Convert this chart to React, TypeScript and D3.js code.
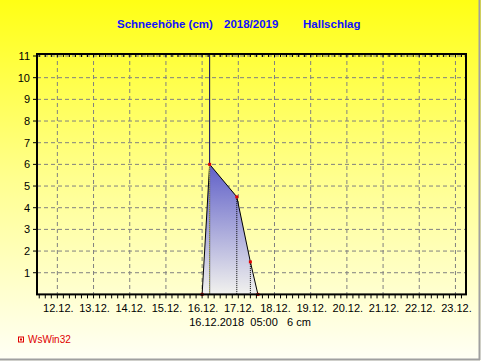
import React from 'react';
import * as d3 from 'd3';

// snow depth readings (cm)
const times = ['2018-12-16T00:00', '2018-12-16T05:00', '2018-12-16T23:00', '2018-12-17T08:00', '2018-12-17T13:00'];
const snow = [0, 6, 4.5, 1.5, 0];
const dayTicks = ['12.12.', '13.12.', '14.12.', '15.12.', '16.12.', '17.12.', '18.12.', '19.12.', '20.12.', '21.12.', '22.12.', '23.12.'];
const yTicks = [1, 2, 3, 4, 5, 6, 7, 8, 9, 10, 11];
const cursorIndex = 1;
const cursorLabel = '16.12.2018  05:00   6 cm';

const W = 481;
const H = 361;
const plot = { left: 37, right: 466, top: 54, bottom: 294.4 };

const App = () => {
  const x = d3.scaleTime()
    .domain([new Date('2018-12-11T10:30'), new Date('2018-12-23T07:00')])
    .range([plot.left, plot.right]);
  const y = d3.scaleLinear().domain([0, 11]).range([plot.bottom, 56]);

  const data = times.map((t, i) => ({ t: new Date(t), v: snow[i] }));
  const dayDates = dayTicks.map((_, i) => new Date(2018, 11, 12 + i));
  const minor = d3.timeHour.every(4)!.range(new Date('2018-12-11T12:00'), new Date('2018-12-23T07:00'));

  const area = d3.area<{ t: Date; v: number }>()
    .x(d => x(d.t))
    .y0(plot.bottom)
    .y1(d => y(d.v));
  const line = d3.line<{ t: Date; v: number }>()
    .x(d => x(d.t))
    .y(d => y(d.v));

  const cur = data[cursorIndex];
  const font = 'Arial, "Liberation Sans", sans-serif';

  return (
    <svg width={W} height={H} style={{ position: 'fixed', left: 0, top: 0 }} fontFamily={font}>
      <defs>
        <linearGradient id="bg" x1="0" y1="0" x2="0" y2="1">
          <stop offset="0" stopColor="#ffff14" />
          <stop offset="0.5" stopColor="#ffff90" />
          <stop offset="1" stopColor="#fffff6" />
        </linearGradient>
        <linearGradient id="fill" gradientUnits="userSpaceOnUse" x1="0" y1={y(6)} x2="0" y2={plot.bottom}>
          <stop offset="0" stopColor="#5f5fc8" />
          <stop offset="1" stopColor="#f2f2ee" />
        </linearGradient>
      </defs>
      <rect x={0} y={0} width={W} height={H} fill="url(#bg)" />
      <line x1={0} x2={480} y1={359.5} y2={359.5} stroke="#a0a0a0" strokeWidth={2} />
      <line x1={479.5} x2={479.5} y1={0} y2={360} stroke="#a0a0a0" strokeWidth={2} />

      <text y={28} fill="#1010ff" fontWeight="bold" fontSize={11.5}>
        <tspan x={117}>Schneehöhe (cm)</tspan>
        <tspan x={224}>2018/2019</tspan>
        <tspan x={303}>Hallschlag</tspan>
      </text>

      {/* grid */}
      {yTicks.map(v => (
        <line key={'gy' + v} x1={plot.left} x2={plot.right} y1={y(v)} y2={y(v)}
          stroke="#808080" strokeDasharray="4,3" />
      ))}
      {dayDates.map((d, i) => (
        <line key={'gx' + i} x1={x(d)} x2={x(d)} y1={plot.top} y2={plot.bottom}
          stroke="#808080" strokeDasharray="4,3" />
      ))}

      {/* snow area */}
      <path d={area(data) ?? ''} fill="url(#fill)" />
      <path d={line(data) ?? ''} fill="none" stroke="#000" strokeWidth={1} />
      {data.slice(1, -1).map((d, i) => i + 1 === cursorIndex ? null : (
        <line key={'drop' + i} x1={x(d.t)} x2={x(d.t)} y1={y(d.v)} y2={plot.bottom}
          stroke="#000" strokeDasharray="1,1" />
      ))}
      <line x1={x(cur.t)} x2={x(cur.t)} y1={y(cur.v)} y2={plot.bottom} stroke="#2020a0" />
      <line x1={x(cur.t)} x2={x(cur.t)} y1={y(cur.v)} y2={plot.bottom} stroke="#ffff00" strokeDasharray="1,1" />
      <line x1={x(cur.t)} x2={x(cur.t)} y1={plot.top} y2={y(cur.v)} stroke="#000060" />
      {data.map((d, i) => (
        <rect key={'pt' + i} x={x(d.t) - 1.5} y={y(d.v) - 1.5} width={3} height={3} fill="#e00000" />
      ))}

      {/* frame */}
      <rect x={plot.left} y={plot.top} width={plot.right - plot.left} height={plot.bottom - plot.top}
        fill="none" stroke="#000" strokeWidth={2} />

      {/* axis ticks */}
      {minor.map((d, i) => (
        <g key={'mt' + i}>
          <line x1={x(d)} x2={x(d)} y1={plot.bottom} y2={plot.bottom + 4} stroke="#000" />
          <line x1={x(d)} x2={x(d)} y1={plot.top} y2={plot.top + 3} stroke="#000" />
        </g>
      ))}
      {yTicks.map(v => (
        <line key={'yt' + v} x1={plot.left - 4} x2={plot.left} y1={y(v)} y2={y(v)} stroke="#000" />
      ))}
      {yTicks.map(v => (
        <text key={'yl' + v} x={30} y={y(v) + 4} textAnchor="end" fontSize={11} fill="#000">{v}</text>
      ))}
      {dayTicks.map((lbl, i) => (
        <text key={'xl' + i} x={x(dayDates[i]) + 1} y={312} textAnchor="middle" fontSize={11} fill="#000">{lbl}</text>
      ))}
      <text x={250} y={326} textAnchor="middle" fontSize={11} fill="#000" style={{ whiteSpace: 'pre' }}>{cursorLabel}</text>

      {/* logo */}
      <rect x={18.5} y={337} width={5} height={5} fill="none" stroke="#e00000" />
      <rect x={20} y={338.5} width={2} height={2} fill="#e00000" />
      <text x={28} y={342.5} fontSize={10} fill="#e00000">WsWin32</text>
    </svg>
  );
};

export default App;
